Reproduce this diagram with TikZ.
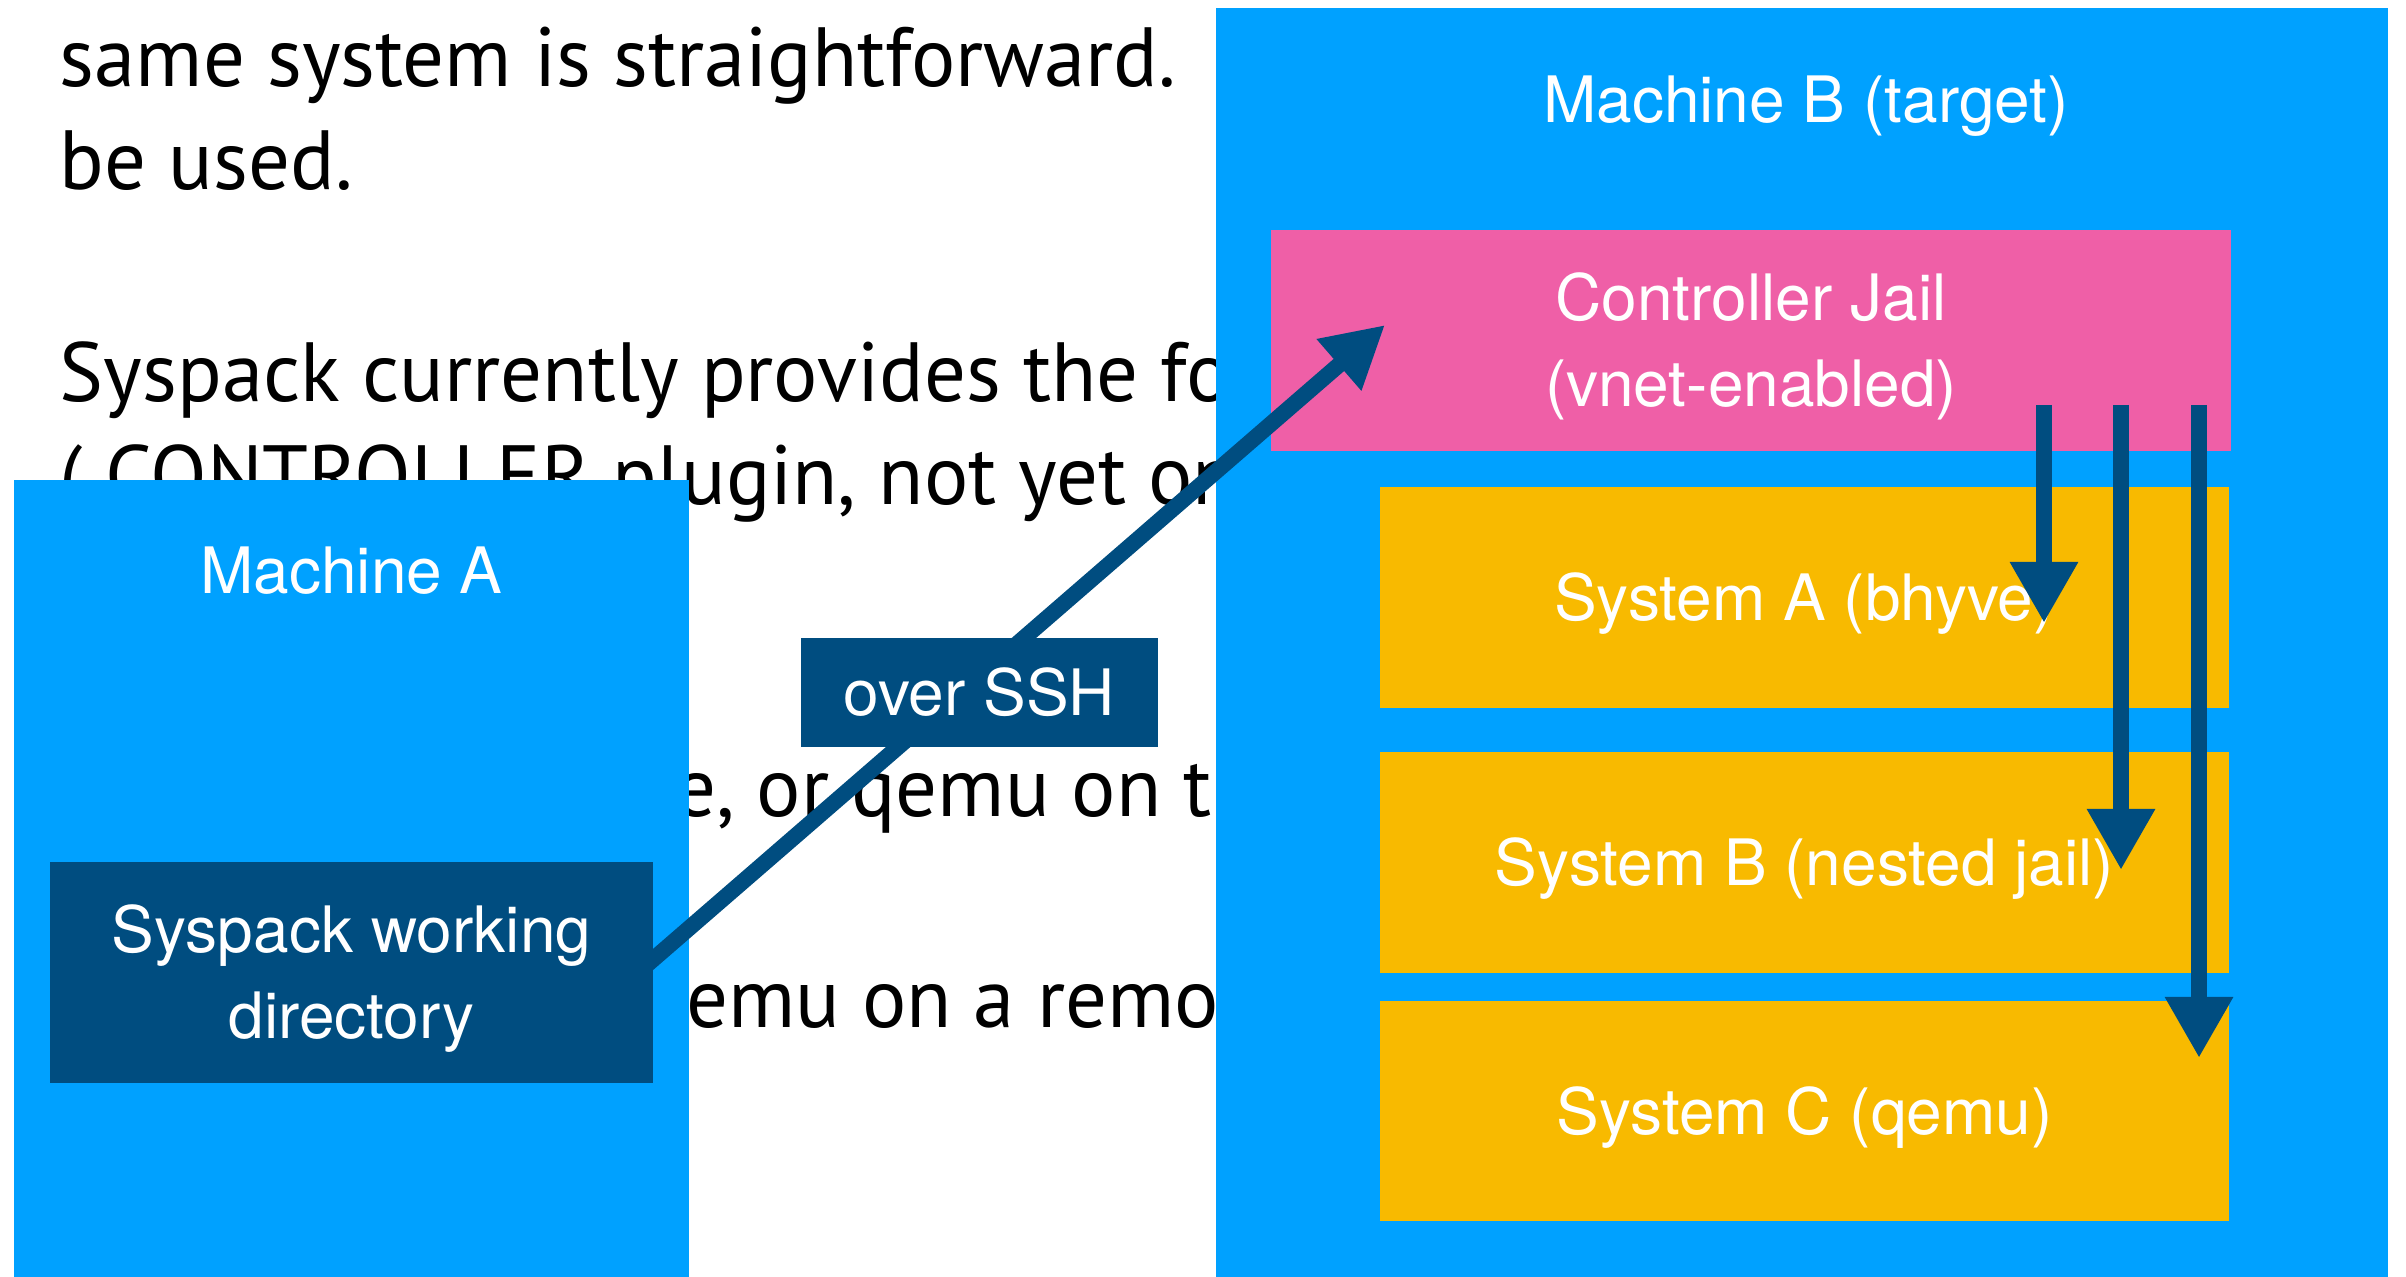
\documentclass[tikz,border=0pt]{standalone}
\usepackage{fontspec}
\usepackage{graphicx}
\usetikzlibrary{arrows.meta,calc}
\newfontfamily\bgfont{PT Sans}
\newfontfamily\lblfont{TeX Gyre Heros}
\definecolor{mblue}{RGB}{0,161,255}
\definecolor{jpink}{RGB}{239,95,167}
\definecolor{sgold}{RGB}{248,186,0}
\definecolor{dkblue}{RGB}{0,77,128}
\newlength\bgw
\newcommand\bgsize{\fontsize{42pt}{50pt}\selectfont}
\newcommand\bgline[1]{\scalebox{\bgratio}[1]{\bgfont\bgsize #1}}
\begin{document}
\sbox0{\bgfont\bgsize same system is straightforward.}%
\global\bgw=\wd0
\pgfmathsetmacro\bgratioX{558pt/\bgw}%
\global\let\bgratio\bgratioX
\begin{tikzpicture}[x=0.5pt,y=-0.5pt,
  bgt/.style={anchor=base west, inner sep=0pt, outer sep=0pt, text=black},
  panel/.style={rectangle, draw=none, inner sep=0pt, outer sep=0pt},
  lbl/.style={text=white, align=center, inner sep=0pt,
    font=\lblfont\fontsize{32pt}{43pt}\selectfont, text height=23pt, text depth=0pt},
  lbltwo/.style={lbl, text height=66pt, text depth=0pt},
  sysbox/.style={panel, lbl, fill=sgold, minimum width=424.5pt, minimum height=110.5pt},
  arr/.style={draw=dkblue, line width=8pt, -{Triangle[width=32pt,length=30.5pt]}}
]
\useasboundingbox (0,0) rectangle (2406,1277);
\fill[white] (0,0) rectangle (2406,1277);

% background slide text
\node[bgt] (l1) at (60,87) {\bgline{same system is straightforward.}};
\node[bgt] (l2) at (60,190) {\bgline{be used.}};
\node[bgt] (l3) at (60,402) {\bgline{Syspack currently provides the following}};
\node[bgt] (l4) at (60,505) {\bgline{( CONTROLLER plugin, not yet on}};
\node[bgt] (l5) at (674,817) {\bgline{e, or qemu on the}};
\node[bgt] (l6) at (686,1028) {\bgline{emu on a remote}};

% machines
\node[panel, fill=mblue, minimum width=337.5pt, minimum height=398.5pt] (machA) at (351.5,878.5) {};
\node[panel, fill=mblue, minimum width=586pt, minimum height=634.5pt] (machB) at (1802,642.5) {};
\node[lbl, anchor=base] (machAlbl) at (351.5,594) {Machine A};
\node[lbl, anchor=base] (machBlbl) at (1806,123) {Machine B (target)};

% controller and systems
\node[panel, lbltwo, fill=jpink, minimum width=480pt, minimum height=110.5pt] (ctrl) at (1751,340.5) {Controller Jail\\(vnet-enabled)};
\node[sysbox] (sysA) at (1804.5,597.5) {System A (bhyve)};
\node[sysbox] (sysB) at (1804.5,862.5) {System B (nested jail)};
\node[sysbox, minimum height=110pt] (sysC) at (1804.5,1111) {System C (qemu)};

% working directory and SSH link
\node[panel, lbltwo, fill=dkblue, minimum width=301.5pt, minimum height=110.5pt] (wd) at (351.5,972.5) {Syspack working\\directory};
\coordinate (sshtip) at (1385,325);
\draw[arr] ([xshift=-7.5pt]wd.east) -- (sshtip);
\node[panel, lbl, fill=dkblue, minimum width=178.5pt, minimum height=54.5pt] (ssh) at (979.5,692.5) {over SSH};

% controller to systems
\draw[arr] ($(ctrl.south east)+(-187,-46)$) -- ($(sysA.east)+(-185,25.5)$);
\draw[arr] ($(ctrl.south east)+(-110,-46)$) -- ($(sysB.east)+(-108,7.5)$);
\draw[arr] ($(ctrl.south east)+(-32,-46)$) -- ($(sysC.east)+(-30,-53)$);
\end{tikzpicture}
\end{document}
